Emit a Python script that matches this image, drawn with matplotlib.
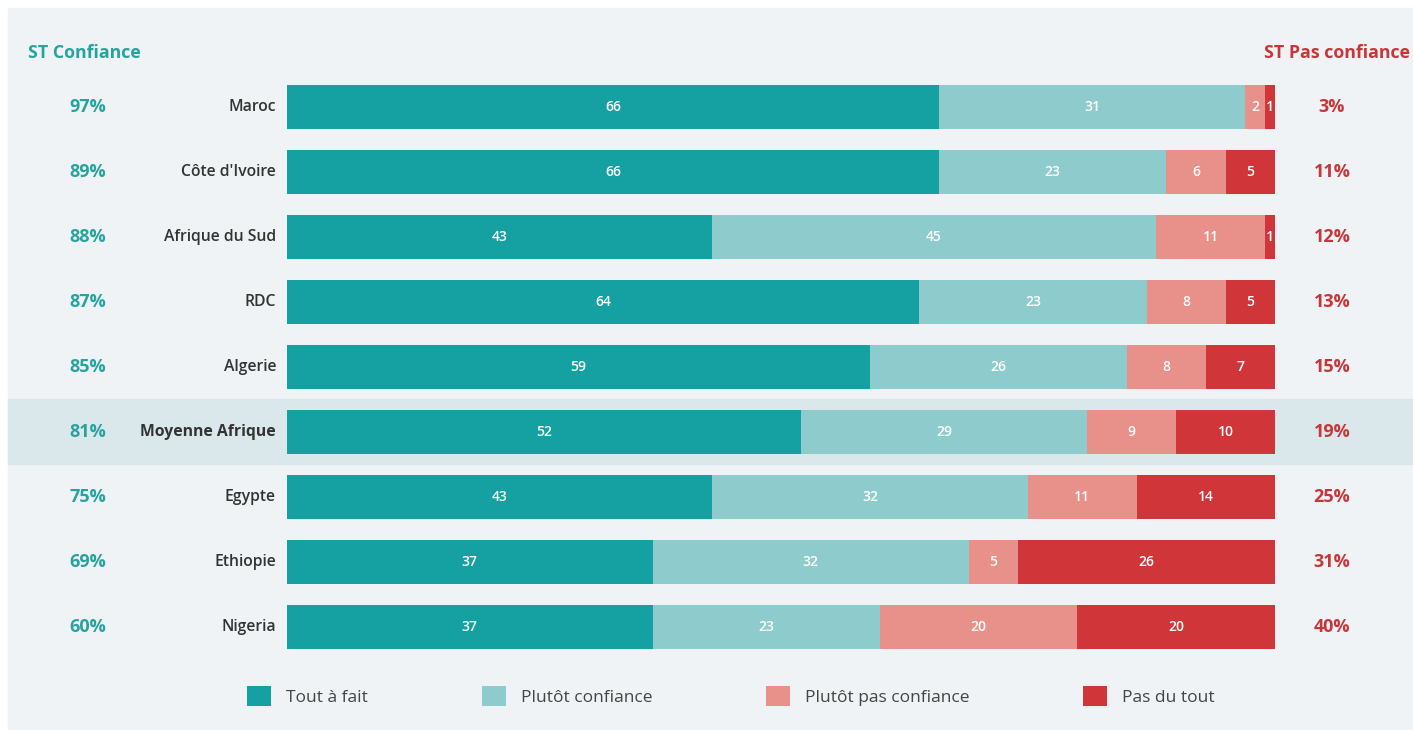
import numpy as np
import matplotlib.pyplot as plt
from matplotlib.patches import Rectangle, Patch

plt.rcParams['font.family'] = ['Open Sans', 'DejaVu Sans']

# Données
pays = ["Maroc", "Côte d'Ivoire", "Afrique du Sud", "RDC", "Algerie",
        "Moyenne Afrique", "Egypte", "Ethiopie", "Nigeria"]
tout_a_fait = [66, 66, 43, 64, 59, 52, 43, 37, 37]
plutot_confiance = [31, 23, 45, 23, 26, 29, 32, 32, 23]
plutot_pas = [2, 6, 11, 8, 8, 9, 11, 5, 20]
pas_du_tout = [1, 5, 1, 5, 7, 10, 14, 26, 20]
st_confiance = ["97%", "89%", "88%", "87%", "85%", "81%", "75%", "69%", "60%"]
st_pas_confiance = ["3%", "11%", "12%", "13%", "15%", "19%", "25%", "31%", "40%"]

series = [tout_a_fait, plutot_confiance, plutot_pas, pas_du_tout]
noms = ["Tout à fait", "Plutôt confiance", "Plutôt pas confiance", "Pas du tout"]
couleurs = ["#15a1a2", "#8ecbcc", "#e8908a", "#d03539"]
teal_txt = "#27a39e"
red_txt = "#c8363a"
bg = "#eff3f5"

W, H = 1413, 730
fig = plt.figure(figsize=(W / 100, H / 100), dpi=100, facecolor="white")
fig.patches.append(Rectangle((8 / W, 0), 1 - 8 / W, 1 - 8 / H,
                             transform=fig.transFigure, color=bg, zorder=-5))
ax = fig.add_axes([0, 0, 1, 1])
ax.set_facecolor("none")
ax.axis("off")

# échelle: 0 -> 287 px, 100 -> 1275 px ; lignes à 107 px + 65 px * i
ppu = (1275 - 287) / 100
ax.set_xlim(-287 / ppu, (W - 287) / ppu)
ax.set_ylim((H - 107) / 65, -107 / 65)

y = np.arange(len(pays))
ax.axhspan(4.5, 5.5, xmin=8 / W, xmax=1, color="#dae8ec", zorder=1)

left = np.zeros(len(pays))
for vals, c in zip(series, couleurs):
    vals = np.array(vals)
    bars = ax.barh(y, vals, left=left, height=0.68, color=c, zorder=2)
    for b, v in zip(bars, vals):
        ax.text(b.get_x() + b.get_width() / 2, b.get_y() + b.get_height() / 2,
                str(v), ha="center", va="center", color="white",
                fontsize=10, fontweight="semibold", zorder=3)
    left += vals

tr = ax.get_yaxis_transform()
for i in y:
    bold = pays[i] == "Moyenne Afrique"
    ax.text(276 / W, i, pays[i], transform=tr, ha="right", va="center",
            fontsize=11.3, color="#333333",
            fontweight="bold" if bold else "semibold")
    ax.text(88 / W, i, st_confiance[i], transform=tr, ha="center", va="center",
            fontsize=13, color=teal_txt, fontweight="bold")
    ax.text(1332 / W, i, st_pas_confiance[i], transform=tr, ha="center",
            va="center", fontsize=13, color=red_txt, fontweight="bold")

fig.text(28 / W, 1 - 53 / H, "ST Confiance", ha="left", va="center",
         fontsize=12.8, color=teal_txt, fontweight="bold")
fig.text(1410 / W, 1 - 53 / H, "ST Pas confiance", ha="right", va="center",
         fontsize=12.8, color=red_txt, fontweight="bold")

handles = [Patch(facecolor=c, edgecolor="none", label=n) for c, n in zip(couleurs, noms)]
fig.legend(handles=handles, loc="center", bbox_to_anchor=(731 / W, 1 - 696 / H),
           ncol=4, frameon=False, fontsize=12.5, handlelength=1.38, handleheight=1.38,
           handletextpad=0.86, columnspacing=6.55, labelcolor="#444444")

fig.savefig("out.png", dpi=100, facecolor="white")
